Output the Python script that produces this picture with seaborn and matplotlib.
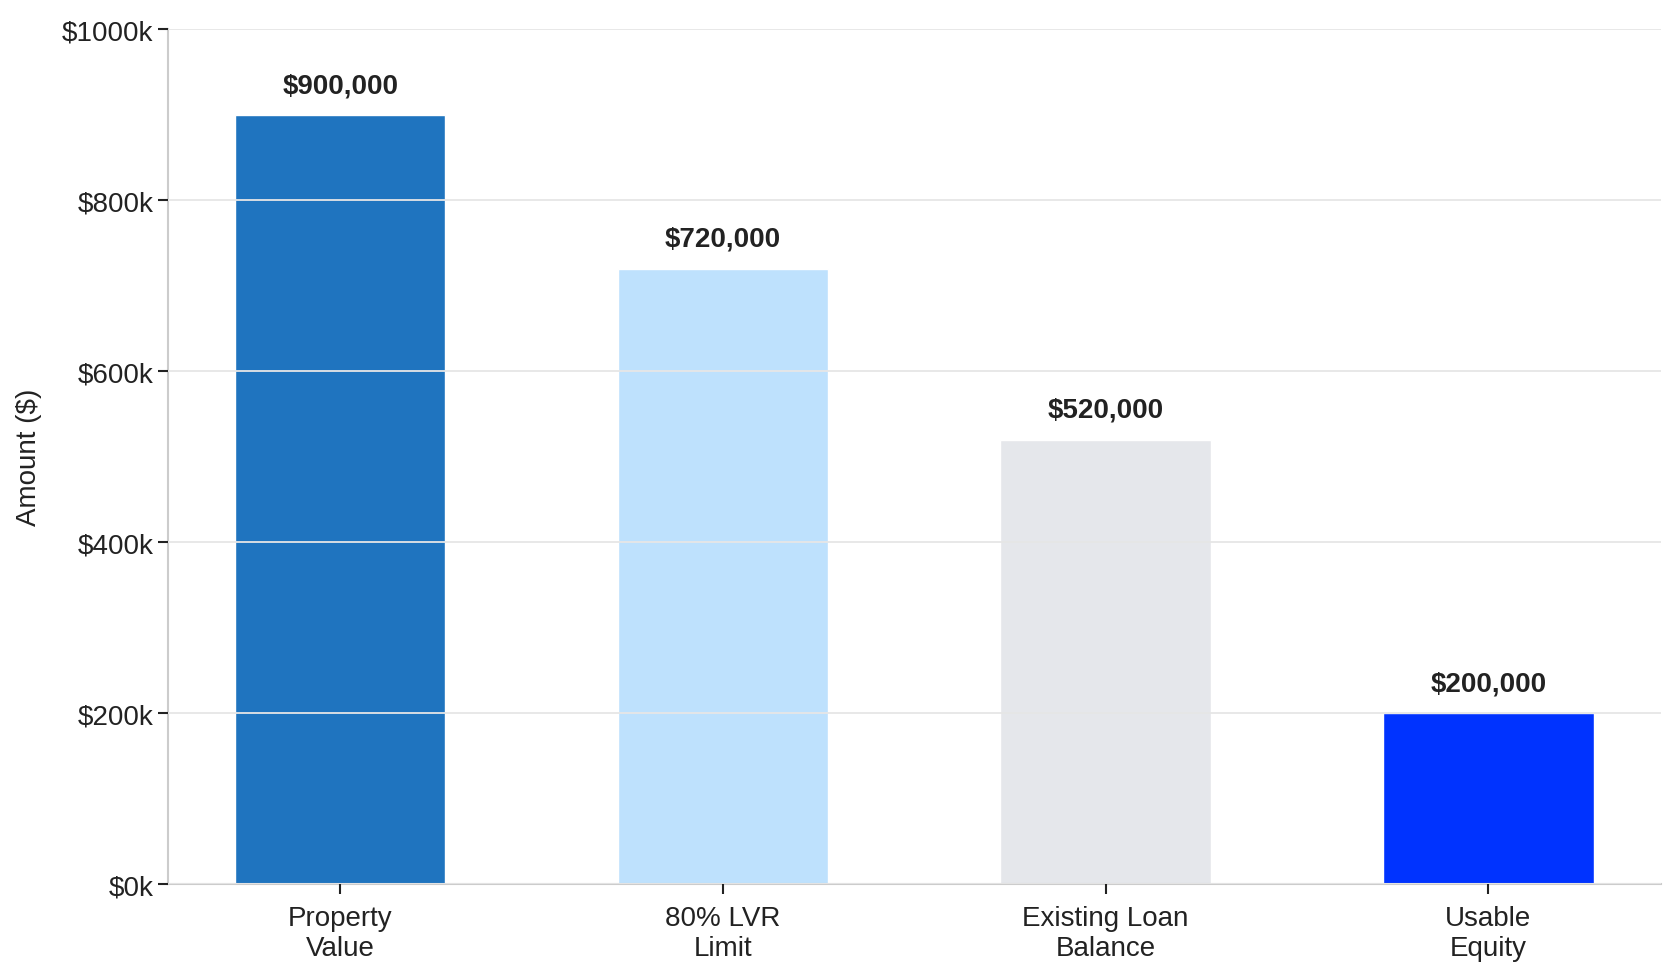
import matplotlib
matplotlib.use("Agg")
import matplotlib.pyplot as plt
import seaborn as sns
import pandas as pd
from matplotlib.ticker import FuncFormatter

categories = ["Property\nValue", "80% LVR\nLimit", "Existing Loan\nBalance", "Usable\nEquity"]
amounts = [900000, 720000, 520000, 200000]
bar_colors = ["#1f74bf", "#bee1fd", "#e5e7eb", "#0033ff"]

df = pd.DataFrame({"Category": categories, "Amount": amounts})

sns.set_theme(style="whitegrid")
plt.rcParams["font.family"] = ["Liberation Sans", "DejaVu Sans"]

fig, ax = plt.subplots(figsize=(16.79, 9.79), dpi=100)
sns.barplot(data=df, x="Category", y="Amount", hue="Category", palette=bar_colors,
            width=0.55, legend=False, saturation=1, ax=ax)

ax.set_ylim(0, 1000000)
ax.set_xlim(-0.45, 3.45)
ax.yaxis.set_major_formatter(FuncFormatter(lambda v, p: f"${v/1000:.0f}k"))
ax.set_axisbelow(False)
ax.grid(axis="y", color="#e6e6e6", linewidth=1.3)
ax.grid(axis="x", visible=False)
sns.despine(ax=ax)
for s in ["left", "bottom"]:
    ax.spines[s].set_color("#cccccc")
    ax.spines[s].set_linewidth(1.5)
ax.tick_params(axis="both", which="major", length=7, width=1.5, color="#222222",
               labelsize=20, labelcolor="#222222", bottom=True, left=True)
ax.tick_params(axis="x", pad=8)
ax.set_xlabel("")
ax.set_ylabel("Amount ($)", fontsize=20, color="#222222", labelpad=14)

for i, v in enumerate(amounts):
    ax.annotate(f"${v:,.0f}", (i, v), xytext=(0, 12), textcoords="offset points",
                ha="center", va="bottom", fontsize=20, fontweight="bold", color="#222222")

fig.subplots_adjust(left=0.1, right=0.989, top=0.969, bottom=0.096)
fig.savefig("out.png", dpi=100)
